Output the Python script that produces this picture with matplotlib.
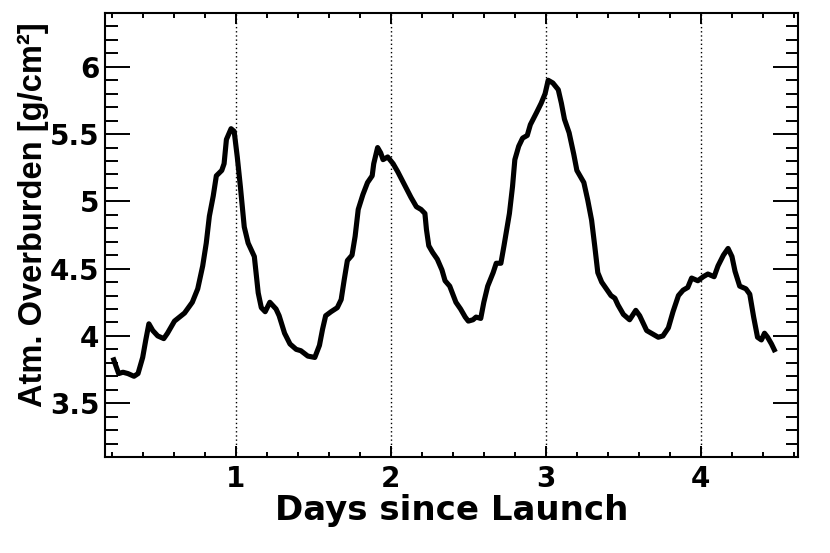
import matplotlib
matplotlib.use("Agg")
import matplotlib.pyplot as plt
from matplotlib.ticker import MultipleLocator, FixedLocator

days = [0.208, 0.245, 0.273, 0.305, 0.344, 0.37, 0.40, 0.42, 0.44, 0.465, 0.497, 0.536,
        0.56, 0.605, 0.67, 0.72, 0.755, 0.787, 0.81, 0.83, 0.855, 0.875, 0.91, 0.925,
        0.94, 0.97, 0.99, 1.01, 1.03, 1.055, 1.08, 1.12, 1.145, 1.165, 1.19, 1.22, 1.26,
        1.28, 1.315, 1.35, 1.39, 1.42, 1.465, 1.51, 1.54, 1.56, 1.58, 1.615, 1.655, 1.68,
        1.70, 1.72, 1.75, 1.77, 1.79, 1.82, 1.85, 1.88, 1.89, 1.915, 1.935, 1.95, 1.98,
        2.015, 2.045, 2.09, 2.13, 2.165, 2.195, 2.22, 2.23, 2.245, 2.27, 2.30, 2.33, 2.35,
        2.38, 2.40, 2.42, 2.45, 2.48, 2.50, 2.53, 2.55, 2.58, 2.60, 2.625, 2.66, 2.68,
        2.71, 2.73, 2.765, 2.785, 2.80, 2.825, 2.85, 2.88, 2.90, 2.94, 2.97, 2.995, 3.015,
        3.045, 3.08, 3.10, 3.12, 3.15, 3.18, 3.20, 3.22, 3.245, 3.27, 3.295, 3.315, 3.335,
        3.36, 3.39, 3.42, 3.445, 3.465, 3.50, 3.54, 3.58, 3.605, 3.65, 3.68, 3.725, 3.755,
        3.79, 3.82, 3.855, 3.885, 3.915, 3.94, 3.98, 4.015, 4.045, 4.085, 4.11, 4.145,
        4.175, 4.20, 4.22, 4.25, 4.29, 4.315, 4.34, 4.365, 4.39, 4.41, 4.43, 4.455, 4.48]
overburden = [3.84, 3.72, 3.73, 3.72, 3.70, 3.72, 3.84, 3.97, 4.09, 4.04, 4.00, 3.98,
              4.02, 4.11, 4.17, 4.25, 4.35, 4.52, 4.69, 4.89, 5.04, 5.19, 5.23, 5.28,
              5.46, 5.54, 5.52, 5.33, 5.11, 4.81, 4.69, 4.59, 4.32, 4.21, 4.18, 4.25, 4.20,
              4.15, 4.02, 3.94, 3.90, 3.89, 3.85, 3.84, 3.93, 4.05, 4.15, 4.18, 4.21, 4.27,
              4.42, 4.56, 4.60, 4.74, 4.94, 5.05, 5.14, 5.19, 5.28, 5.40, 5.36, 5.31, 5.33,
              5.28, 5.22, 5.12, 5.03, 4.96, 4.94, 4.91, 4.79, 4.67, 4.62, 4.57, 4.49, 4.41,
              4.37, 4.31, 4.25, 4.20, 4.14, 4.11, 4.12, 4.14, 4.13, 4.25, 4.37, 4.47, 4.54,
              4.54, 4.67, 4.91, 5.11, 5.31, 5.41, 5.47, 5.49, 5.57, 5.66, 5.73, 5.80, 5.90,
              5.88, 5.83, 5.73, 5.61, 5.51, 5.35, 5.23, 5.19, 5.14, 5.01, 4.86, 4.67, 4.47,
              4.40, 4.35, 4.30, 4.28, 4.23, 4.16, 4.12, 4.19, 4.15, 4.04, 4.02, 3.99, 4.00,
              4.06, 4.18, 4.30, 4.34, 4.36, 4.43, 4.41, 4.44, 4.46, 4.44, 4.52, 4.60,
              4.65, 4.59, 4.48, 4.37, 4.35, 4.31, 4.14, 3.99, 3.97, 4.02, 3.99, 3.94, 3.88]
day_marks = [1, 2, 3, 4]
xtick_labels = ["1", "2", "3", "4"]
ytick_vals = [3.5, 4, 4.5, 5, 5.5, 6]
ytick_labels = ["3.5", "4", "4.5", "5", "5.5", "6"]

W, H = 830, 553
fig = plt.figure(figsize=(W / 100, H / 100), dpi=100)
ax = fig.add_axes([105 / W, 1 - 457 / H, (798 - 105) / W, (457 - 13) / H])

ax.plot(days, overburden, color="black", lw=3.7, solid_joinstyle="round",
        solid_capstyle="butt", zorder=3)
for d in day_marks:
    ax.axvline(d, color="black", lw=1.0, linestyle=(0, (1, 2)), zorder=2)

ax.set_xlim(0.157, 4.626)
ax.set_ylim(3.1, 6.4)

ax.xaxis.set_major_locator(FixedLocator(day_marks))
ax.xaxis.set_minor_locator(MultipleLocator(0.2))
ax.yaxis.set_major_locator(FixedLocator(ytick_vals))
ax.yaxis.set_minor_locator(MultipleLocator(0.1))
ax.set_xticklabels(xtick_labels)
ax.set_yticklabels(ytick_labels)

for s in ax.spines.values():
    s.set_linewidth(1.5)

ax.tick_params(axis="x", which="major", direction="in", length=8, width=1.4,
               top=True, bottom=True, pad=6)
ax.tick_params(axis="x", which="minor", direction="in", length=3.5, width=1.4,
               top=True, bottom=True)
ax.tick_params(axis="y", which="major", direction="in", length=18, width=1.4,
               left=True, right=True, pad=4)
ax.tick_params(axis="y", which="minor", direction="in", length=9, width=1.4,
               left=True, right=True)

for lab in ax.get_xticklabels() + ax.get_yticklabels():
    lab.set_fontfamily("DejaVu Sans")
    lab.set_fontweight("bold")
    lab.set_fontsize(20)

fig.text(452 / W, 1 - 520 / H, "Days since Launch", ha="center", va="baseline",
         fontsize=24.5, fontweight="bold", family="DejaVu Sans")
fig.text(42 / W, 1 - 407 / H, "Atm. Overburden [g/cm²]", rotation=90,
         rotation_mode="anchor", ha="left", va="baseline",
         fontsize=23.5, fontweight="bold", family=["Liberation Sans", "DejaVu Sans"])

fig.savefig("out.png", dpi=100)
